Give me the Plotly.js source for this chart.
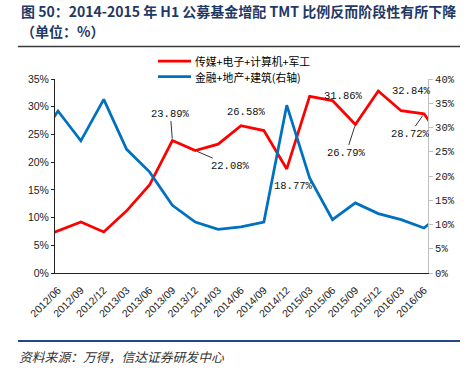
<!DOCTYPE html>
<html>
<head>
<meta charset="utf-8">
<script src="https://cdn.plot.ly/plotly-3.0.1.min.js"></script>
<style>html,body{margin:0;padding:0;background:#fff;}#chart{width:471px;height:371px;}</style>
</head>
<body>
<div id="chart"></div>
<script>
// ---- data ----
const categories = ['2012/06','2012/09','2012/12','2013/03','2013/06','2013/09','2013/12','2014/03','2014/06','2014/09','2014/12','2015/03','2015/06','2015/09','2015/12','2016/03','2016/06'];
const tmtShare = [7.6, 9.22, 7.41, 11.21, 15.87, 23.89, 22.08, 23.24, 26.58, 25.7, 18.77, 31.86, 31.1, 26.79, 32.84, 29.28, 28.72];
const finShare = [33.4, 27.25, 35.8, 25.5, 20.85, 13.97, 10.5, 9.0, 9.5, 10.5, 34.6, 19.6, 11.0, 14.45, 12.25, 11.0, 9.28];
// values of the neighbouring periods whose segments are cut off at the axis edges
const tmtEdges = [6.0, 23.0];
const finEdges = [26.4, 13.0];
const seriesNames = ['传媒+电子+计算机+军工', '金融+地产+建筑(右轴)'];
const labelledIdx = [5, 6, 8, 10, 11, 13, 14, 16];
const titleLines = ['图 50：2014-2015 年 H1 公募基金增配 TMT 比例反而阶段性有所下降', '（单位：%）'];
const sourceText = '资料来源：万得，信达证券研发中心';

// ---- build ----
const n = categories.length;
const xs = [-1].concat(categories.map((c, i) => i), [n]);
const tmtY = [tmtEdges[0]].concat(tmtShare, [tmtEdges[1]]);
const finY = [finEdges[0]].concat(finShare, [finEdges[1]]);

const RED = '#ff0000', BLUE = '#0070c0';
const traces = [
  {x: xs, y: tmtY, type: 'scatter', mode: 'lines', name: seriesNames[0], line: {color: RED, width: 2.75}, yaxis: 'y', hoverinfo: 'skip'},
  {x: xs, y: finY, type: 'scatter', mode: 'lines', name: seriesNames[1], line: {color: BLUE, width: 2.75}, yaxis: 'y2', hoverinfo: 'skip'}
];

// label placement (pixel offsets), keyed by index
const labelStyle = {
  5:  {arrow: true, ax: -2, ay: -27},
  6:  {arrow: true, ax: 35, ay: 15},
  8:  {arrow: false, xs: 5, ys: 14},
  10: {arrow: false, xs: 7, ys: -17},
  11: {arrow: false, xs: 34, ys: 0},
  13: {arrow: true, ax: -9, ay: 28},
  14: {arrow: false, xs: 33, ys: 0},
  16: {arrow: true, ax: -14, ay: 20}
};
const monoFont = {family: 'Liberation Mono, DejaVu Sans Mono, monospace', size: 10.5, color: '#111'};
const annotations = labelledIdx.map(i => {
  const s = labelStyle[i];
  const a = {x: i, y: tmtShare[i], xref: 'x', yref: 'y', text: tmtShare[i].toFixed(2) + '%', font: monoFont};
  if (s.arrow) {
    Object.assign(a, {showarrow: true, ax: s.ax, ay: s.ay, arrowhead: 0, arrowwidth: 0.8, arrowcolor: '#000', standoff: 2});
  } else {
    Object.assign(a, {showarrow: false, xshift: s.xs, yshift: s.ys});
  }
  return a;
});

// plot area geometry for paper-coordinate decorations
const W = 471, H = 371, L = 55, R = 43, T = 79, B = 98;
const pw = W - L - R, ph = H - T - B;
const px = v => (v - L) / pw;
const py = v => (H - B - v) / ph;

// manual legend
const legendRows = [{y: 61, color: RED, name: seriesNames[0]}, {y: 76.5, color: BLUE, name: seriesNames[1]}];
const shapes = [];
legendRows.forEach(r => {
  shapes.push({type: 'line', xref: 'paper', yref: 'paper', x0: px(158), x1: px(191), y0: py(r.y), y1: py(r.y), line: {color: r.color, width: 2.75}});
  annotations.push({xref: 'paper', yref: 'paper', x: px(194), y: py(r.y), xanchor: 'left', yanchor: 'middle', showarrow: false, text: r.name,
    borderpad: 0, font: {family: 'Noto Sans CJK SC', size: 10.8, color: '#000'}});
});
// title lines
const titleFont = {family: 'Noto Sans CJK SC', size: 14, weight: 700, color: '#1f3864'};
[[11.5, titleLines[0]], [31, titleLines[1]]].forEach(([y, t]) => {
  annotations.push({xref: 'paper', yref: 'paper', x: px(19), y: py(y), xanchor: 'left', yanchor: 'middle', showarrow: false, text: t, font: titleFont});
});
// rules under title and above source
shapes.push({type: 'line', xref: 'paper', yref: 'paper', x0: px(18), x1: px(460), y0: py(46.5), y1: py(46.5), line: {color: '#3a3a3a', width: 1.6}});
shapes.push({type: 'line', xref: 'paper', yref: 'paper', x0: px(18), x1: px(460), y0: py(341), y1: py(341), line: {color: '#24478f', width: 1.8}});
annotations.push({xref: 'paper', yref: 'paper', x: px(17), y: py(356), xanchor: 'left', yanchor: 'middle', showarrow: false,
  text: sourceText, font: {family: 'Noto Sans CJK SC', size: 12.8, color: '#333', style: 'italic'}});

const layout = {
  width: W, height: H,
  margin: {l: L, r: R, t: T, b: B, pad: 0},
  paper_bgcolor: '#fff', plot_bgcolor: '#fff',
  showlegend: false,
  xaxis: {
    range: [-0.131, n - 1 + 0.175], tickmode: 'array', tickvals: categories.map((c, i) => i), ticktext: categories,
    tickangle: -45, showline: true, linecolor: '#222', linewidth: 1, ticks: '', showgrid: false, zeroline: false,
    ticklabelstandoff: 6,
    tickfont: {family: 'Liberation Sans, Arial, sans-serif', size: 10.5, color: '#222'}, fixedrange: true
  },
  yaxis: {
    range: [0, 35], dtick: 5, ticksuffix: '%', showline: true, linecolor: '#222', linewidth: 1,
    ticks: 'outside', ticklen: 3, tickcolor: '#222', showgrid: false, zeroline: false,
    tickfont: {family: 'Liberation Sans, Arial, sans-serif', size: 10.5, color: '#222'}, fixedrange: true
  },
  yaxis2: {
    range: [0, 40], dtick: 5, ticksuffix: '%', overlaying: 'y', side: 'right', showline: true, linecolor: '#bfbfbf', linewidth: 1,
    ticks: 'outside', ticklen: 4, tickcolor: '#bfbfbf', showgrid: false, zeroline: false,
    tickfont: {family: 'Liberation Mono, DejaVu Sans Mono, monospace', size: 10.5, color: '#222'}, fixedrange: true
  },
  annotations: annotations,
  shapes: shapes
};

Plotly.newPlot('chart', traces, layout, {displayModeBar: false, staticPlot: true});
</script>
</body>
</html>
